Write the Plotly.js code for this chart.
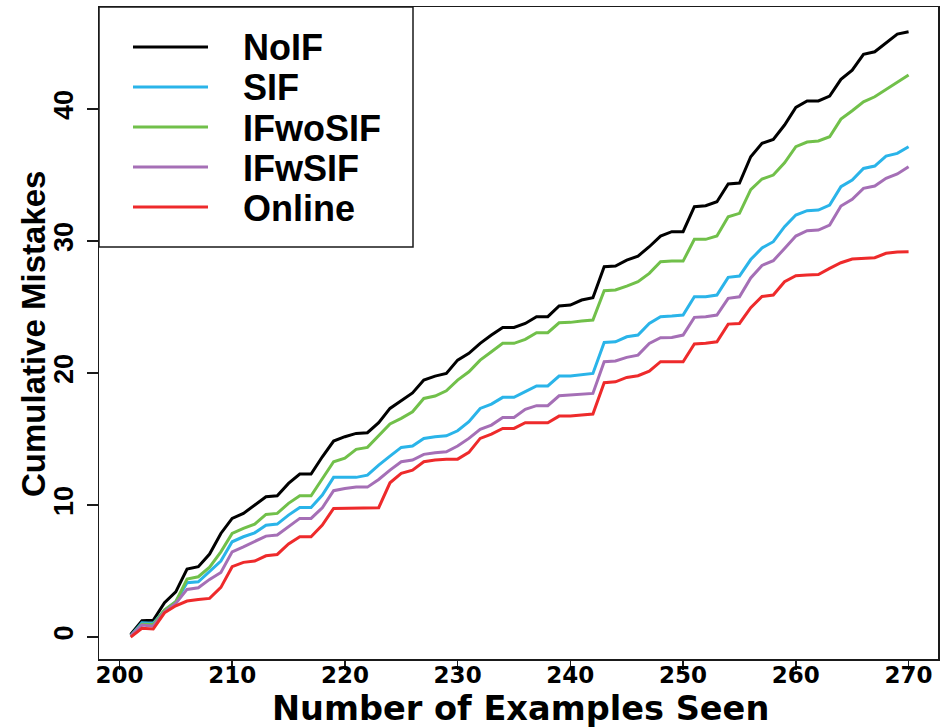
<!DOCTYPE html>
<html>
<head>
<meta charset="utf-8">
<script src="https://cdn.plot.ly/plotly-3.0.1.min.js"></script>
<style>
  html, body { margin: 0; padding: 0; background: #ffffff; }
  #chart { width: 948px; height: 727px; }
</style>
</head>
<body>
<div id="chart"></div>
<script>
// ---- data ----
const examplesSeen = [201,202,203,204,205,206,207,208,209,210,
  211,212,213,214,215,216,217,218,219,220,
  221,222,223,224,225,226,227,228,229,230,
  231,232,233,234,235,236,237,238,239,240,
  241,242,243,244,245,246,247,248,249,250,
  251,252,253,254,255,256,257,258,259,260,
  261,262,263,264,265,266,267,268,269,270];

const noIF = [0.2,1.24,1.28,2.6,3.43,5.15,5.33,6.29,7.85,8.99,
  9.37,10.0,10.63,10.7,11.64,12.35,12.35,13.66,14.85,15.18,
  15.43,15.48,16.24,17.32,17.9,18.5,19.47,19.77,19.97,20.98,
  21.49,22.25,22.88,23.46,23.46,23.76,24.27,24.27,25.08,25.15,
  25.53,25.71,28.06,28.11,28.56,28.86,29.57,30.38,30.71,30.71,
  32.6,32.68,32.98,34.32,34.39,36.39,37.4,37.7,38.79,40.13,
  40.61,40.61,40.98,42.25,42.95,44.14,44.34,45.03,45.68,45.86];

const sIF = [0.1,1.09,1.04,2.05,2.68,4.12,4.19,5.0,5.76,7.22,
  7.6,7.9,8.48,8.56,9.24,9.82,9.82,10.76,12.1,12.1,
  12.1,12.27,13.03,13.71,14.37,14.47,15.05,15.18,15.25,15.63,
  16.31,17.32,17.65,18.16,18.16,18.59,19.02,19.02,19.77,19.77,
  19.85,19.97,22.32,22.37,22.75,22.88,23.76,24.27,24.32,24.39,
  25.78,25.78,25.91,27.25,27.35,28.6,29.48,29.95,31.09,31.97,
  32.3,32.35,32.73,34.12,34.62,35.5,35.68,36.44,36.64,37.15];

const iFwoSIF = [0.1,0.98,0.95,2.05,2.68,4.39,4.57,5.3,6.46,7.85,
  8.23,8.56,9.29,9.37,10.13,10.7,10.7,12.02,13.28,13.55,
  14.22,14.37,15.23,16.14,16.57,17.07,18.08,18.26,18.66,19.47,
  20.1,20.98,21.62,22.25,22.25,22.55,23.06,23.06,23.81,23.84,
  23.94,24.02,26.24,26.29,26.59,26.92,27.55,28.43,28.48,28.48,
  30.13,30.13,30.38,31.84,32.1,33.9,34.7,35.0,35.93,37.15,
  37.5,37.58,37.9,39.24,39.87,40.55,40.93,41.49,41.99,42.58];

const iFwSIF = [0.1,0.91,0.83,1.92,2.55,3.61,3.74,4.37,4.9,6.46,
  6.84,7.22,7.65,7.73,8.36,8.99,8.99,9.8,11.09,11.26,
  11.36,11.36,11.94,12.65,13.28,13.41,13.84,13.97,14.04,14.47,
  15.05,15.73,16.06,16.64,16.64,17.25,17.53,17.53,18.28,18.33,
  18.38,18.46,20.86,20.91,21.19,21.36,22.25,22.68,22.7,22.88,
  24.22,24.27,24.39,25.66,25.78,27.2,28.15,28.51,29.44,30.38,
  30.78,30.83,31.21,32.65,33.16,33.99,34.17,34.75,35.08,35.63];

const online = [0.0,0.66,0.61,1.84,2.37,2.73,2.85,2.93,3.76,5.33,
  5.66,5.76,6.16,6.26,7.05,7.6,7.6,8.48,9.75,9.75,
  9.8,9.8,9.8,11.69,12.4,12.65,13.28,13.41,13.48,13.48,
  13.99,15.05,15.38,15.81,15.81,16.24,16.24,16.24,16.74,16.74,
  16.82,16.89,19.27,19.34,19.67,19.8,20.15,20.86,20.86,20.86,
  22.2,22.25,22.37,23.71,23.76,24.95,25.8,25.91,26.92,27.37,
  27.42,27.47,27.93,28.36,28.64,28.69,28.74,29.07,29.17,29.19];

const seriesNames = ["NoIF", "SIF", "IFwoSIF", "IFwSIF", "Online"];
const seriesValues = [noIF, sIF, iFwoSIF, iFwSIF, online];
const seriesColors = ["#000000", "#2AB4E9", "#71C04A", "#A56FB6", "#EE2A2B"];

const xTickVals = [200, 210, 220, 230, 240, 250, 260, 270];
const yTickVals = [0, 10, 20, 30, 40];
const xTitle = "Number of Examples Seen";
const yTitle = "Cumulative Mistakes";

// ---- figure ----
const W = 948, H = 727;
const M = { l: 99, r: 10, t: 7, b: 68 };
const PW = W - M.l - M.r, PH = H - M.t - M.b;
const px2x = p => (p - M.l) / PW;       // pixel -> paper x
const py2y = p => (H - M.b - p) / PH;   // pixel -> paper y

const traces = seriesNames.map((name, i) => ({
  type: "scatter",
  mode: "lines",
  name: name,
  x: examplesSeen,
  y: seriesValues[i],
  line: { color: seriesColors[i], width: 3 },
  showlegend: false,
  hoverinfo: "x+y+name"
}));

// hand-built legend box in the R style (top-left corner of the plot box)
const legendRows = [47, 87, 127, 167, 207];
const shapes = [{
  type: "rect", xref: "paper", yref: "paper",
  x0: 0, x1: px2x(413), y0: py2y(247), y1: 1,
  line: { color: "#1a1a1a", width: 1.5 }, fillcolor: "rgba(0,0,0,0)", layer: "above"
}];
const annotations = [];
seriesNames.forEach((name, i) => {
  shapes.push({
    type: "line", xref: "paper", yref: "paper",
    x0: px2x(133), x1: px2x(208), y0: py2y(legendRows[i]), y1: py2y(legendRows[i]),
    line: { color: seriesColors[i], width: 3 }, layer: "above"
  });
  annotations.push({
    xref: "paper", yref: "paper",
    x: px2x(241), y: py2y(legendRows[i] + 1),
    xanchor: "left", yanchor: "middle", showarrow: false,
    text: name,
    font: { family: "Liberation Sans, Arial, sans-serif", size: 36, weight: 700, color: "#000000" }
  });
});

// axis titles placed like R's mtext lines
annotations.push({
  xref: "paper", yref: "paper",
  x: px2x(520), y: py2y(708.5),
  xanchor: "center", yanchor: "middle", showarrow: false,
  borderpad: 0,
  text: xTitle,
  font: { family: "DejaVu Sans, sans-serif", size: 33.6, weight: 700, color: "#000000" }
});
annotations.push({
  xref: "paper", yref: "paper",
  x: px2x(33.5), y: py2y(334.5),
  xanchor: "center", yanchor: "middle", showarrow: false,
  textangle: -90,
  text: yTitle,
  font: { family: "Liberation Sans, Arial, sans-serif", size: 33, weight: 700, color: "#000000" }
});

const layout = {
  width: W, height: H,
  margin: M,
  paper_bgcolor: "#ffffff",
  plot_bgcolor: "#ffffff",
  showlegend: false,
  xaxis: {
    range: [198.19, 272.61],
    tickmode: "array", tickvals: xTickVals,
    ticks: "outside", ticklen: 9, tickwidth: 1.5, tickcolor: "#1a1a1a",
    ticklabelstandoff: -14,
    showline: true, mirror: true, linecolor: "#1a1a1a", linewidth: 1.5,
    showgrid: false, zeroline: false,
    tickfont: { family: "DejaVu Sans, sans-serif", size: 23, weight: 700, color: "#000000" }
  },
  yaxis: {
    range: [-1.66, 47.73],
    tickmode: "array", tickvals: yTickVals,
    ticks: "outside", ticklen: 11, tickwidth: 1.5, tickcolor: "#1a1a1a",
    tickangle: -90,
    ticklabelstandoff: 3,
    showline: true, mirror: true, linecolor: "#1a1a1a", linewidth: 1.5,
    showgrid: false, zeroline: false,
    tickfont: { family: "Liberation Sans Narrow, Liberation Sans, Arial, sans-serif", size: 27, weight: 700, color: "#000000" }
  },
  shapes: shapes,
  annotations: annotations
};

Plotly.newPlot("chart", traces, layout, { displayModeBar: false, staticPlot: true });
</script>
</body>
</html>
